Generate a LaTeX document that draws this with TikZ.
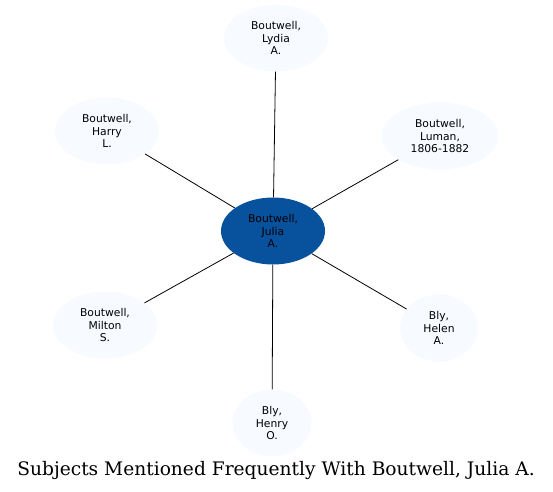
\documentclass[tikz,border=0pt]{standalone}
\usepackage{fontspec}
\newfontfamily\nodefont{DejaVu Sans}
\newfontfamily\titlefont{DejaVu Serif}
\usetikzlibrary{shapes, positioning}
\definecolor{centerblue}{HTML}{08519C}
\definecolor{paleblue}{HTML}{F7FBFF}
\tikzstyle{subject} = [ellipse, minimum width=104bp, minimum height=67bp, inner sep=0pt, text centered, align=center, fill=paleblue, font={\nodefont\fontsize{10.8}{12.5}\selectfont}]
\tikzstyle{focus} = [subject, fill=centerblue]
\tikzstyle{link} = [draw=black, line width=0.8pt]
\begin{document}
\begin{tikzpicture}[x=1bp, y=-1bp]
\useasboundingbox (0,0) rectangle (553,492);
\node (julia) [focus] at (273,231) {Boutwell,\\Julia\\A.};
\node (lydia) [subject] at (276,38) {Boutwell,\\Lydia\\A.};
\node (harry) [subject] at (107,131) {Boutwell,\\Harry\\L.};
\node (luman) [subject, minimum width=117bp] at (440,136) {Boutwell,\\Luman,\\1806-1882};
\node (milton) [subject] at (105,325) {Boutwell,\\Milton\\S.};
\node (helen) [subject, minimum width=78bp] at (439,328) {Bly,\\Helen\\A.};
\node (henry) [subject, minimum width=79bp] at (272,423) {Bly,\\Henry\\O.};
\draw[link] (julia) -- (lydia);
\draw[link] (julia) -- (harry);
\draw[link] (julia) -- (luman);
\draw[link] (julia) -- (milton);
\draw[link] (julia) -- (helen);
\draw[link] (julia) -- (henry);
\node (title) at (276,470) {\titlefont\fontsize{18.7}{22}\selectfont Subjects Mentioned Frequently With Boutwell, Julia A.};
\end{tikzpicture}
\end{document}
